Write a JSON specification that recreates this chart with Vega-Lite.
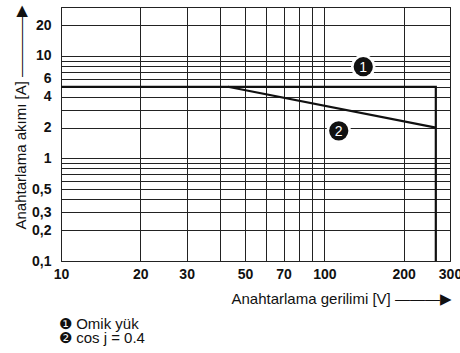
{
  "$schema": "https://vega.github.io/schema/vega-lite/v6.json",
  "autosize": "none",
  "width": 389,
  "height": 254,
  "padding": {"left": 61, "top": 7, "right": 10, "bottom": 92},
  "background": "white",
  "config": {
    "font": "Liberation Sans",
    "view": {"stroke": "#111", "strokeWidth": 1}
  },
  "title": {
    "text": ["❶ Omik yük", "❷ cos j = 0.4"],
    "orient": "bottom",
    "anchor": "start",
    "fontSize": 15,
    "fontWeight": "normal",
    "lineHeight": 14,
    "color": "#111",
    "offset": 11,
    "dx": 46
  },
  "datasets": {
    "curves": [
      {"series": "1", "order": 1, "x": 10, "y": 5},
      {"series": "1", "order": 2, "x": 265, "y": 5},
      {"series": "1", "order": 3, "x": 265, "y": 0.1},
      {"series": "2", "order": 1, "x": 43, "y": 5},
      {"series": "2", "order": 2, "x": 265, "y": 2}
    ],
    "marks": [
      {"n": "1", "x": 140.5, "y": 7.85},
      {"n": "2", "x": 113.4, "y": 1.86}
    ]
  },
  "layer": [
    {
      "data": {"name": "curves"},
      "mark": {"type": "line", "color": "#111", "strokeWidth": 2.2, "clip": true},
      "encoding": {
        "x": {
          "field": "x", "type": "quantitative",
          "scale": {"type": "log", "domain": [10, 300], "nice": false},
          "axis": {
            "values": [10, 20, 30, 40, 50, 60, 70, 80, 90, 100, 200, 300],
            "format": "~g",
            "labelExpr": "indexof([10,20,30,50,70,100,200,300], datum.value) >= 0 ? datum.label : ''",
            "labelFont": "Liberation Sans",
            "labelFontSize": 14,
            "labelFontWeight": "bold",
            "labelColor": "#111",
            "labelPadding": 6,
            "labelOverlap": false,
            "labelFlush": false,
            "ticks": false,
            "domain": false,
            "grid": true,
            "gridColor": "#222",
            "gridWidth": 1,
            "gridOpacity": 1,
            "title": "Anahtarlama gerilimi [V] ———▶",
            "titleFont": "Liberation Sans",
            "titleFontSize": 15,
            "titleFontWeight": "normal",
            "titleColor": "#111",
            "titleAlign": "left",
            "titleBaseline": "alphabetic",
            "titleX": 170,
            "titleY": 42
          }
        },
        "y": {
          "field": "y", "type": "quantitative",
          "scale": {"type": "log", "domain": [0.1, 30], "nice": false},
          "axis": {
            "values": [0.1, 0.2, 0.3, 0.4, 0.5, 0.6, 0.7, 0.8, 0.9, 1, 2, 3, 4, 5, 6, 7, 8, 9, 10, 20, 30],
            "format": "~g",
            "labelExpr": "indexof([0.1,0.2,0.3,0.5,1,2,4,6,10,20], datum.value) >= 0 ? replace(datum.label, '.', ',') : ''",
            "labelFont": "Liberation Sans",
            "labelFontSize": 14,
            "labelFontWeight": "bold",
            "labelColor": "#111",
            "labelPadding": 10,
            "labelOverlap": false,
            "labelFlush": false,
            "ticks": false,
            "domain": false,
            "grid": true,
            "gridColor": "#222",
            "gridWidth": 1,
            "gridOpacity": 1,
            "title": "Anahtarlama akımı [A]  ————▶",
            "titleFont": "Liberation Sans",
            "titleFontSize": 15,
            "titleFontWeight": "normal",
            "titleColor": "#111",
            "titleAngle": 270,
            "titleAlign": "left",
            "titleBaseline": "alphabetic",
            "titleX": -36,
            "titleY": 222
          }
        },
        "detail": {"field": "series"},
        "order": {"field": "order"}
      }
    },
    {
      "data": {"name": "marks"},
      "mark": {"type": "point", "filled": true, "color": "white", "opacity": 1, "size": 600, "shape": "circle"},
      "encoding": {
        "x": {"field": "x", "type": "quantitative"},
        "y": {"field": "y", "type": "quantitative"}
      }
    },
    {
      "data": {"name": "marks"},
      "mark": {"type": "point", "filled": true, "color": "#111", "opacity": 1, "size": 370, "shape": "circle"},
      "encoding": {
        "x": {"field": "x", "type": "quantitative"},
        "y": {"field": "y", "type": "quantitative"}
      }
    },
    {
      "data": {"name": "marks"},
      "mark": {"type": "text", "color": "white", "fontSize": 14, "font": "Liberation Sans", "align": "center", "baseline": "middle", "dy": 1},
      "encoding": {
        "x": {"field": "x", "type": "quantitative"},
        "y": {"field": "y", "type": "quantitative"},
        "text": {"field": "n"}
      }
    }
  ]
}
